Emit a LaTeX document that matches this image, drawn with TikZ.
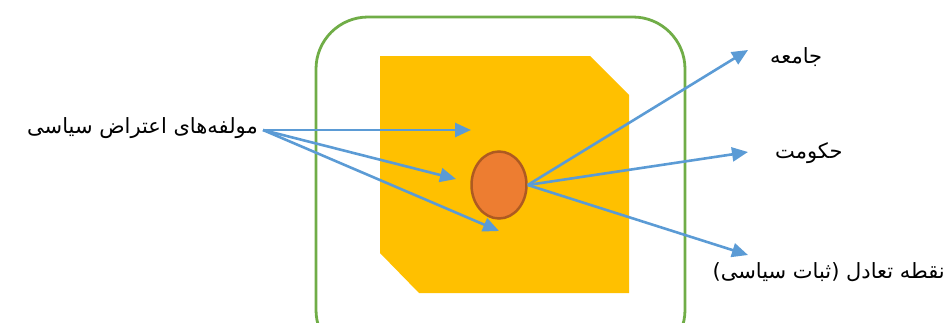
\documentclass[tikz,border=0pt]{standalone}
\usepackage{fontspec}
\usetikzlibrary{arrows.meta,shapes.geometric}
\TeXXeTstate=1
\newfontfamily\arabicfont[Script=Arabic]{DejaVu Sans}
\definecolor{gborder}{HTML}{70AD47}
\definecolor{yfill}{HTML}{FFC000}
\definecolor{ofill}{HTML}{ED7D31}
\definecolor{odraw}{HTML}{AE5A21}
\definecolor{barrow}{HTML}{5B9BD5}
\tikzset{
  conn/.style={draw=barrow, line width=2.6pt, -{Triangle[length=16pt,width=14pt]}},
  lbl/.style={font=\arabicfont\fontsize{21}{24}\selectfont, inner sep=0pt},
}
\begin{document}
\begin{tikzpicture}[x=1pt,y=-1pt]
\useasboundingbox (0,0) rectangle (946,322);
\clip (0,0) rectangle (946,322);
\draw[gborder, line width=2.8pt, rounded corners=52pt] (316,17) rectangle (685,362);
\fill[yfill] (380,56) -- (590,56) -- (629,95) -- (629,293) -- (419,293) -- (380,253) -- cycle;
\node[ellipse, draw=odraw, fill=ofill, line width=2.5pt, minimum width=55pt, minimum height=67pt, inner sep=0pt] (core) at (499,185) {};
\node[lbl, anchor=east] (src) at (258,128) {\beginR مولفه‌های اعتراض سیاسی\endR};
\node[lbl, anchor=west] (soc) at (770,57) {\beginR جامعه\endR};
\node[lbl, anchor=west] (gov) at (775,153) {\beginR حکومت\endR};
\node[lbl, anchor=east] (eq) at (945,272) {\beginR نقطه تعادل (ثبات سیاسی)\endR};
\coordinate (s) at (263,130);
\coordinate (t1) at (471,130);
\coordinate (t2) at (456,179);
\coordinate (t3) at (499,231);
\coordinate (r1) at (748,50);
\coordinate (r2) at (748,152);
\coordinate (r3) at (748,255);
\draw[conn] (s) -- (t1);
\draw[conn] (s) -- (t2);
\draw[conn] (s) -- (t3);
\draw[conn] (core.east) -- (r1);
\draw[conn] (core.east) -- (r2);
\draw[conn] (core.east) -- (r3);
\end{tikzpicture}
\end{document}
